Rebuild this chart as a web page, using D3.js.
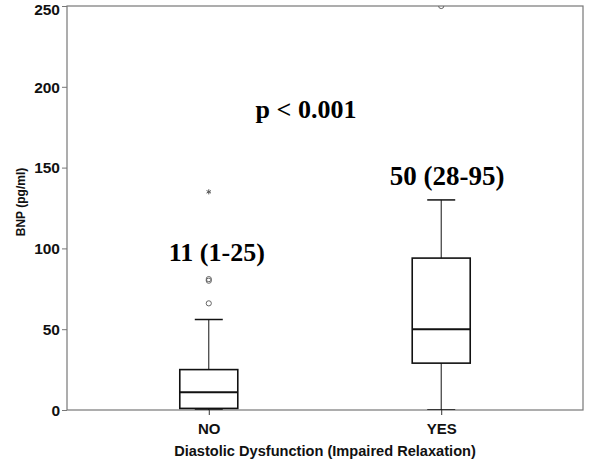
<!DOCTYPE html>
<html>
<head>
<meta charset="utf-8">
<script src="https://cdn.jsdelivr.net/npm/d3@7"></script>
<style>
  body { margin: 0; background: #fff; }
  .tick text { font-family: 'Liberation Sans', Arial, sans-serif; font-weight: bold; }
</style>
</head>
<body>
<div id="chart-area"></div>
<script>
// box plot values (pg/ml)
var categories = ['NO', 'YES']
var whiskerLow = [0, 0]
var q1 = [1, 29]
var median = [11, 50]
var q3 = [25, 94]
var whiskerHigh = [56, 130]

var outlierCat = ['NO', 'NO', 'NO', 'NO', 'YES']
var outlierVal = [66, 80, 81, 135, 250]
var outlierSym = ['circle', 'circle', 'circle', 'star', 'circle']

var summaryText = ['11 (1-25)', '50 (28-95)']
var yTicks = [0, 50, 100, 150, 200, 250]

var margin = { left: 67, right: 17, top: 6, bottom: 61 }
var width = 600 - margin.left - margin.right,
    height = 471 - margin.top - margin.bottom

var svg = d3.select('#chart-area')
  .append('svg')
    .attr('width', 600)
    .attr('height', 471)

var g = svg.append('g')
    .attr('transform', 'translate(' + margin.left + ', ' + margin.top + ')')

g.append('defs').append('clipPath')
    .attr('id', 'plot-clip')
  .append('rect')
    .attr('width', width)
    .attr('height', height)

var x = d3.scalePoint()
    .domain(categories)
    .range([0, width])
    .padding(0.61)

var y = d3.scaleLinear()
    .domain([0, 250])
    .range([height, 0])

// frame
g.append('rect')
    .attr('width', width)
    .attr('height', height)
    .attr('fill', 'none')
    .attr('stroke', '#777')
    .attr('stroke-width', 1.2)

var yAxisCall = d3.axisLeft(y).tickValues(yTicks).tickSize(5).tickPadding(2)
var yAxis = g.append('g').attr('class', 'y axis').call(yAxisCall)
yAxis.select('.domain').remove()
yAxis.selectAll('.tick line').attr('stroke', '#777')
yAxis.selectAll('.tick text')
    .attr('font-size', '15.5px')
    .attr('fill', '#111')
    .attr('dy', d => d === 250 ? '0.55em' : '0.34em')

var xAxisCall = d3.axisBottom(x).tickSize(5).tickPadding(8)
var xAxis = g.append('g')
    .attr('class', 'x axis')
    .attr('transform', 'translate(0,' + height + ')')
    .call(xAxisCall)
xAxis.select('.domain').remove()
xAxis.selectAll('.tick line').attr('stroke', '#333')
xAxis.selectAll('.tick text').attr('font-size', '15px').attr('fill', '#111')

// axis titles
g.append('text')
    .attr('x', width / 2)
    .attr('y', height + 46)
    .attr('font-size', '14.6px')
    .attr('font-weight', 'bold')
    .attr('font-family', "'Liberation Sans', Arial, sans-serif")
    .attr('text-anchor', 'middle')
    .attr('fill', '#111')
    .text('Diastolic Dysfunction (Impaired Relaxation)')

g.append('text')
    .attr('x', -(y(250) + y(0)) / 2 + 6)
    .attr('y', -42)
    .attr('font-size', '12px')
    .attr('font-weight', 'bold')
    .attr('font-family', "'Liberation Sans', Arial, sans-serif")
    .attr('text-anchor', 'middle')
    .attr('transform', 'rotate(-90)')
    .attr('fill', '#111')
    .text('BNP (pg/ml)')

// boxes
var boxW = 58, capW = 28
var boxes = g.append('g').attr('clip-path', 'url(#plot-clip)')

categories.forEach(function (c, i) {
  var cx = x(c)
  var b = boxes.append('g')
  // whiskers
  b.append('line')
      .attr('x1', cx).attr('x2', cx)
      .attr('y1', y(q3[i])).attr('y2', y(whiskerHigh[i]))
      .attr('stroke', '#111').attr('stroke-width', 1)
  b.append('line')
      .attr('x1', cx).attr('x2', cx)
      .attr('y1', y(q1[i])).attr('y2', y(whiskerLow[i]))
      .attr('stroke', '#111').attr('stroke-width', 1)
  b.append('line')
      .attr('x1', cx - capW / 2).attr('x2', cx + capW / 2)
      .attr('y1', y(whiskerHigh[i])).attr('y2', y(whiskerHigh[i]))
      .attr('stroke', '#111').attr('stroke-width', 1.5)
  b.append('line')
      .attr('x1', cx - capW / 2).attr('x2', cx + capW / 2)
      .attr('y1', y(whiskerLow[i])).attr('y2', y(whiskerLow[i]))
      .attr('stroke', '#111').attr('stroke-width', 1.5)
  // box
  b.append('rect')
      .attr('x', cx - boxW / 2)
      .attr('y', y(q3[i]))
      .attr('width', boxW)
      .attr('height', y(q1[i]) - y(q3[i]))
      .attr('fill', 'none')
      .attr('stroke', '#111')
      .attr('stroke-width', 1.6)
  b.append('line')
      .attr('x1', cx - boxW / 2).attr('x2', cx + boxW / 2)
      .attr('y1', y(median[i])).attr('y2', y(median[i]))
      .attr('stroke', '#111').attr('stroke-width', 2)
})

// outliers
outlierVal.forEach(function (v, i) {
  var cx = x(outlierCat[i])
  if (outlierSym[i] === 'star') {
    boxes.append('path')
        .attr('d', d3.symbol(d3.symbolAsterisk, 18)())
        .attr('transform', 'translate(' + cx + ',' + y(v) + ')')
        .attr('stroke', '#555')
        .attr('stroke-width', 1)
  } else {
    boxes.append('circle')
        .attr('cx', cx)
        .attr('cy', y(v))
        .attr('r', 2.6)
        .attr('fill', 'none')
        .attr('stroke', '#666')
        .attr('stroke-width', 1)
  }
})

// annotations
var serif = "'Liberation Serif', 'Times New Roman', serif"
g.append('text')
    .attr('x', x('NO') + 8)
    .attr('y', y(92))
    .attr('font-size', '26px')
    .attr('font-weight', 'bold')
    .attr('font-family', serif)
    .attr('text-anchor', 'middle')
    .text(summaryText[0])

g.append('text')
    .attr('x', x('YES') + 6)
    .attr('y', y(139))
    .attr('font-size', '27px')
    .attr('font-weight', 'bold')
    .attr('font-family', serif)
    .attr('text-anchor', 'middle')
    .text(summaryText[1])

g.append('text')
    .attr('x', (x('NO') + x('YES')) / 2 - 19)
    .attr('y', y(181))
    .attr('font-size', '26px')
    .attr('font-weight', 'bold')
    .attr('font-family', serif)
    .attr('text-anchor', 'middle')
    .text('p < 0.001')
</script>
</body>
</html>
